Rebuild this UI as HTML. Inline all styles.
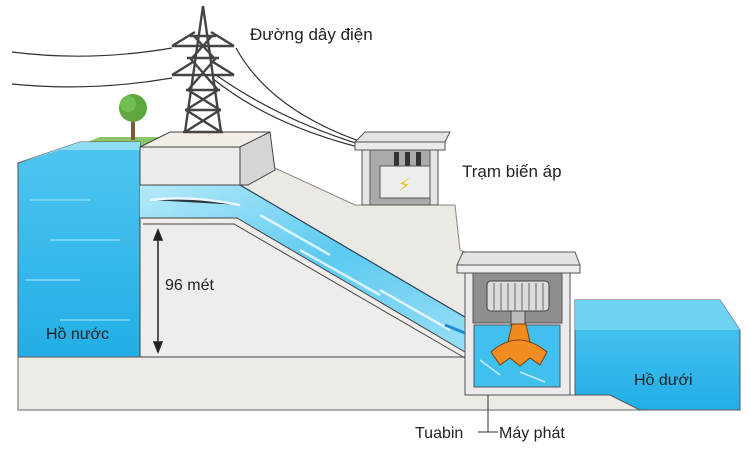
<!DOCTYPE html>
<html><head><style>
body{margin:0;background:#fff;width:750px;height:447px;overflow:hidden}
svg text{font-family:"Liberation Sans","DejaVu Sans",sans-serif;fill:#222}
</style></head><body>
<svg width="750" height="447" viewBox="0 0 750 447" xmlns="http://www.w3.org/2000/svg">
<defs>
<linearGradient id="w" x1="0" y1="0" x2="0" y2="1"><stop offset="0" stop-color="#4fc6f0"/><stop offset="1" stop-color="#22aee6"/></linearGradient>
<linearGradient id="ch" x1="0" y1="0" x2="1" y2="1"><stop offset="0" stop-color="#b5e9f9"/><stop offset="0.5" stop-color="#5ccaf1"/><stop offset="1" stop-color="#9bdff7"/></linearGradient>
</defs>
<!-- power lines -->
<g fill="none" stroke="#333" stroke-width="1.2">
<path d="M12 52 Q90 62 172 48"/>
<path d="M12 84 Q90 92 172 78"/>
<path d="M236 48 Q270 110 362 142"/>
<path d="M216 75 Q280 120 362 145"/>
<path d="M212 78 Q270 125 362 148"/>
</g>
<!-- grass & tree -->
<polygon points="80,145 100,137 160,137 140,147" fill="#8cc66a"/>
<rect x="131" y="112" width="4" height="28" fill="#7b5a3c"/>
<circle cx="133" cy="108" r="14" fill="#5ea83f"/>
<circle cx="128" cy="104" r="8" fill="#74bf52"/>
<!-- ground base -->
<polygon points="18,357 465,357 465,395 610,395 640,410 18,410" fill="#eeeae6" stroke="#666" stroke-width="1"/>
<!-- background slope behind channel -->
<polygon points="240,185 275,168 355,205 455,205 460,250 465,252 465,320 470,330" fill="#ece8e4" stroke="#888" stroke-width="1"/>
<!-- upper lake -->
<polygon points="18,163 80,142 140,142 140,357 18,357" fill="url(#w)" stroke="#555" stroke-width="1"/>
<polygon points="18,163 80,142 140,142 140,150 60,150" fill="#8fdcf5"/>
<g stroke="#bff0ff" stroke-width="1.5" opacity="0.6"><path d="M30 200 H90"/><path d="M50 240 H120"/><path d="M25 280 H80"/><path d="M60 320 H130"/></g>
<!-- channel -->
<polygon points="140,185 240,185 470,320 470,355 465,355 237,218 140,218" fill="url(#ch)"/>
<path d="M240,185 L470,320" stroke="#245" stroke-width="1.2"/>
<g stroke="#fff" stroke-width="2.5" opacity="0.75"><path d="M150 200 Q190 195 240 205"/><path d="M260 215 L330 255"/><path d="M300 250 L380 295"/><path d="M380 290 L450 330"/></g>
<!-- grey inner block -->
<polygon points="140,218 237,218 465,352 465,357 140,357" fill="#efedea" stroke="#444" stroke-width="1"/>
<path d="M143,224 L234,224 L465,358" stroke="#444" fill="none"/>
<!-- dam top block -->
<polygon points="140,147 170,132 270,132 240,147" fill="#f2ede6" stroke="#444" stroke-width="1"/>
<rect x="140" y="147" width="100" height="38" fill="#eceaea" stroke="#444"/>
<polygon points="240,147 270,132 275,170 248,185 240,185" fill="#d6d4d4" stroke="#444"/>
<!-- tower -->
<g stroke="#444" stroke-width="2.4" fill="none">
<path d="M203 6 L185 132 M203 6 L221 132"/>
<path d="M172 46 L234 46 M172 75 L234 75"/>
<path d="M190 36 L216 36 M187 58 L219 58 M186 90 L220 90 M185 110 L221 110"/>
<path d="M194 36 L214 58 M212 36 L192 58 M190 58 L218 90 M216 58 L188 90 M188 90 L220 110 M218 90 L186 110 M186 110 L221 132 M220 110 L185 132"/>
<path d="M172 46 L195 32 M234 46 L211 32 M172 75 L193 62 M234 75 L213 62"/>
<path d="M183 132 H223"/>
</g>
<!-- transformer building -->
<polygon points="355,142 365,132 450,132 445,142" fill="#e3e3e3" stroke="#555"/>
<rect x="355" y="142" width="90" height="8" fill="#eaeaea" stroke="#555"/>
<rect x="362" y="150" width="76" height="55" fill="#aaa" stroke="#555"/>
<rect x="362" y="150" width="8" height="55" fill="#e5e5e5" stroke="#555"/>
<rect x="430" y="150" width="8" height="55" fill="#e5e5e5" stroke="#555"/>
<rect x="394" y="152" width="5" height="14" fill="#333"/><rect x="405" y="152" width="5" height="14" fill="#333"/><rect x="416" y="152" width="5" height="14" fill="#333"/>
<rect x="380" y="166" width="50" height="32" fill="#ededed" stroke="#555"/>
<text x="398" y="191" font-size="18" style="fill:#f0c020">⚡</text>
<!-- powerhouse -->
<polygon points="457,265 463,252 575,252 580,265" fill="#e3e3e3" stroke="#555"/>
<rect x="457" y="265" width="123" height="8" fill="#ededed" stroke="#555"/>
<rect x="465" y="273" width="105" height="122" fill="#eceaea" stroke="#555"/>
<rect x="473" y="273" width="89" height="50" fill="#8e8e8e" stroke="#555"/>
<rect x="487" y="281" width="62" height="30" rx="4" fill="#dcdcdc" stroke="#444"/>
<g stroke="#666"><path d="M494 283V310M501 283V310M508 283V310M515 283V310M522 283V310M529 283V310M536 283V310M543 283V310"/></g>
<rect x="511" y="311" width="14" height="16" fill="#bbb" stroke="#444"/>
<rect x="474" y="325" width="86" height="62" fill="#3fc0ef" stroke="#555"/>
<path d="M508 342 L530 342 L526 324 L512 324Z" fill="#ef8a1e" stroke="#7a4010"/>
<path d="M491 352 Q518 328 547 352 L540 365 L530 358 L520 366 L510 358 L500 365Z" fill="#f08c22" stroke="#7a4010"/>
<path d="M445 325 L465 333" stroke="#1a8fd0" stroke-width="3"/>
<g stroke="#fff" stroke-width="1.5" opacity="0.7"><path d="M480 360 L500 375"/><path d="M520 372 L545 382"/></g>
<!-- lower lake -->
<polygon points="575,300 720,300 740,330 740,410 640,410 610,395 575,395" fill="url(#w)" stroke="#555"/>
<polygon points="575,300 720,300 740,330 575,330" fill="#6fd2f3"/>
<!-- arrow 96 -->
<g stroke="#222" stroke-width="1.5" fill="#222">
<path d="M158 236 V346"/><path d="M154 240 L158 230 L162 240Z"/><path d="M154 342 L158 352 L162 342Z"/>
</g>
<!-- label line -->
<path d="M488 395 V432 M478 432 H498" stroke="#333" fill="none"/>
<text x="250" y="40" font-size="17">Đường dây điện</text>
<text x="462" y="177" font-size="17">Trạm biến áp</text>
<text x="165" y="290" font-size="16">96 mét</text>
<text x="46" y="339" font-size="16">Hồ nước</text>
<text x="634" y="385" font-size="16">Hồ dưới</text>
<text x="415" y="438" font-size="16">Tuabin</text>
<text x="499" y="438" font-size="16">Máy phát</text>
</svg>
</body></html>
